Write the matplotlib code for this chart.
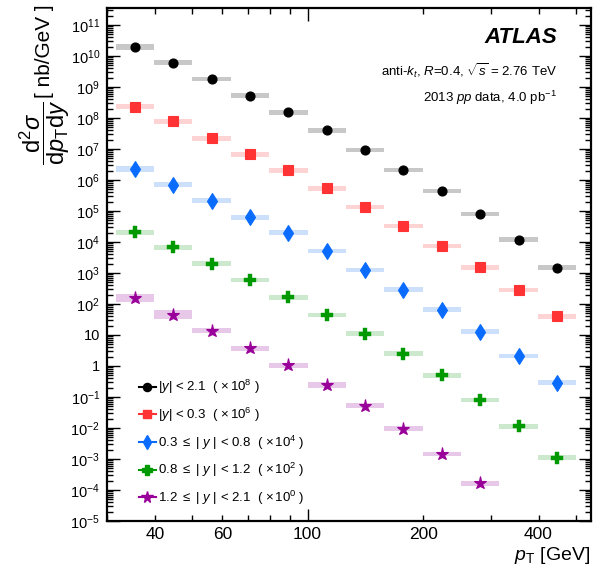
import numpy as np
import matplotlib
matplotlib.use("Agg")
import matplotlib.pyplot as plt
from matplotlib.lines import Line2D

plt.rcParams['font.family'] = ['Liberation Sans', 'DejaVu Sans']
plt.rcParams['mathtext.fontset'] = 'custom'
plt.rcParams['mathtext.rm'] = 'Liberation Sans'
plt.rcParams['mathtext.it'] = 'Liberation Sans:italic'
plt.rcParams['mathtext.bf'] = 'Liberation Sans:bold'

# pT bin edges [GeV]
bin_edges = [31.6, 39.8, 50.1, 63.1, 79.4, 100.0, 125.9, 158.5, 199.5, 251.2, 316.2, 398.1, 501.2]

# scaled cross sections per rapidity bin [nb/GeV]
y_21 = [1.95e10, 6.0e9, 1.8e9, 5.2e8, 1.53e8, 4.0e7, 9.3e6, 2.1e6, 4.4e5, 7.8e4, 1.18e4, 1.48e3]
y_03 = [2.3e8, 7.8e7, 2.2e7, 6.7e6, 2.05e6, 5.4e5, 1.32e5, 3.2e4, 7.3e3, 1.5e3, 2.8e2, 40]
y_0308 = [2.2e6, 6.9e5, 2.1e5, 6.3e4, 2.0e4, 5.1e3, 1.25e3, 290, 66, 12.8, 2.1, 0.29]
y_0812 = [2.05e4, 6.7e3, 2.0e3, 594, 164, 44, 11, 2.5, 0.50, 0.081, 0.0112, 1.1e-3]
y_1221 = [153, 45, 13.7, 3.7, 1.05, 0.245, 0.052, 9.5e-3, 1.45e-3, 1.65e-4]

# relative systematic uncertainty (shaded boxes)
sys_21 = [0.22, 0.20, 0.20, 0.19, 0.19, 0.19, 0.18, 0.18, 0.18, 0.18, 0.18, 0.18]
sys_03 = [0.22, 0.20, 0.21, 0.20, 0.19, 0.19, 0.18, 0.18, 0.18, 0.18, 0.18, 0.18]
sys_0308 = [0.24, 0.21, 0.21, 0.20, 0.19, 0.19, 0.18, 0.18, 0.18, 0.18, 0.18, 0.18]
sys_0812 = [0.22, 0.21, 0.20, 0.19, 0.19, 0.19, 0.18, 0.18, 0.18, 0.18, 0.18, 0.18]
sys_1221 = [0.32, 0.42, 0.22, 0.21, 0.20, 0.26, 0.20, 0.20, 0.20, 0.22]

labels = [r'$|y|$ < 2.1  ( $\times\,10^{8}$ )',
          r'$|y|$ < 0.3  ( $\times\,10^{6}$ )',
          r'0.3 $\leq$ | $y$ | < 0.8  ( $\times\,10^{4}$ )',
          r'0.8 $\leq$ | $y$ | < 1.2  ( $\times\,10^{2}$ )',
          r'1.2 $\leq$ | $y$ | < 2.1  ( $\times\,10^{0}$ )']

series = [y_21, y_03, y_0308, y_0812, y_1221]
systs = [sys_21, sys_03, sys_0308, sys_0812, sys_1221]
colors = ['black', '#ff3333', '#0a6cff', '#009900', '#990099']
box_colors = ['#c8c8c8', '#fdd3d3', '#cce0fb', '#cde9cd', '#e8c8e8']
markers = ['o', 's', 'd', 'P', '*']
msizes = [6.5, 6.5, 7.8, 8, 9.5]

edges = np.array(bin_edges)
centers = np.sqrt(edges[:-1] * edges[1:])
widths = edges[1:] - edges[:-1]

fig = plt.figure(figsize=(5.94, 5.69), dpi=100)
ax = fig.add_axes([107/594, 48/569, (591-107)/594, (521-8)/569])
ax.set_xscale('log')
ax.set_yscale('log')

handles = []
for vals, ss, c, bc, m, ms in zip(series, systs, colors, box_colors, markers, msizes):
    v = np.array(vals)
    s = np.array(ss)
    n = len(v)
    lo = v / (1 + s)
    hi = v * (1 + s)
    ax.bar(edges[:n], hi - lo, bottom=lo, width=widths[:n], align='edge',
           color=bc, edgecolor='none', zorder=2)
    ax.plot(centers[:n], v, linestyle='none', marker=m, color=c, markersize=ms,
            markeredgewidth=0.8 if m != 'P' else 0.3, zorder=3)
    handles.append(Line2D([], [], color=c, marker=m, markersize=ms * 0.9, lw=1.5))

ax.set_xlim(30, 548)

# x ticks
ax.set_xticks([100], ['100'])
minor_x = [30, 40, 50, 60, 70, 80, 90, 200, 300, 400, 500]
minor_lbl = ['' if t not in (40, 60, 200, 400) else str(t) for t in minor_x]
ax.set_xticks(minor_x, minor_lbl, minor=True)

# y ticks
decades = list(range(-5, 12))
ylabels = []
for d in decades:
    if d == 0:
        ylabels.append('1')
    elif d == 1:
        ylabels.append('10')
    else:
        ylabels.append(r'$10^{%d}$' % d)
ax.set_yticks([10.0 ** d for d in decades], ylabels)
minor_y = [k * 10.0 ** d for d in range(-5, 12) for k in range(2, 10)]
ax.set_yticks(minor_y, minor=True)
ax.set_ylim(1e-5, 3.5e11)

ax.tick_params(which='both', direction='in', top=True, right=True, width=1.0)
ax.tick_params(which='major', length=9)
ax.tick_params(which='minor', length=4.5)
ax.tick_params(axis='x', which='both', labelsize=12.5, pad=4)
ax.tick_params(axis='y', which='both', labelsize=10.5, pad=5)
for sp in ax.spines.values():
    sp.set_linewidth(1.6)

leg = ax.legend(handles, labels, loc='lower left', bbox_to_anchor=(0.055, 0.017),
                frameon=False, fontsize=9.5, handlelength=1.3, handletextpad=0.15,
                labelspacing=0.72, borderaxespad=0)

ax.text(0.93, 0.943, 'ATLAS', transform=ax.transAxes, ha='right', va='center',
        fontsize=16, fontweight='bold', fontstyle='italic')
ax.text(0.93, 0.879, r'anti-$k_{t}$, $R$=0.4, $\sqrt{s}$ = 2.76 TeV',
        transform=ax.transAxes, ha='right', va='center', fontsize=9.5)
ax.text(0.93, 0.8245, r'2013 $pp$ data, 4.0 pb$^{-1}$',
        transform=ax.transAxes, ha='right', va='center', fontsize=9.5)

# y axis title: units on top, fraction below
fig.text(45/594, 1 - 4/569, '[ nb/GeV ]', rotation=90, ha='center', va='top',
         fontsize=15)
fig.text(45/594, 1 - 132/569,
         r'$\dfrac{\mathrm{d}^{2}\sigma}{\mathrm{d}p_{\mathrm{T}}\mathrm{d}y}$',
         rotation=90, ha='center', va='center', fontsize=17)
fig.text(590/594, 1 - 556/569, r'$p_{\rm T}$ [GeV]', ha='right', va='center',
         fontsize=14)

fig.savefig('out.png', dpi=100)
